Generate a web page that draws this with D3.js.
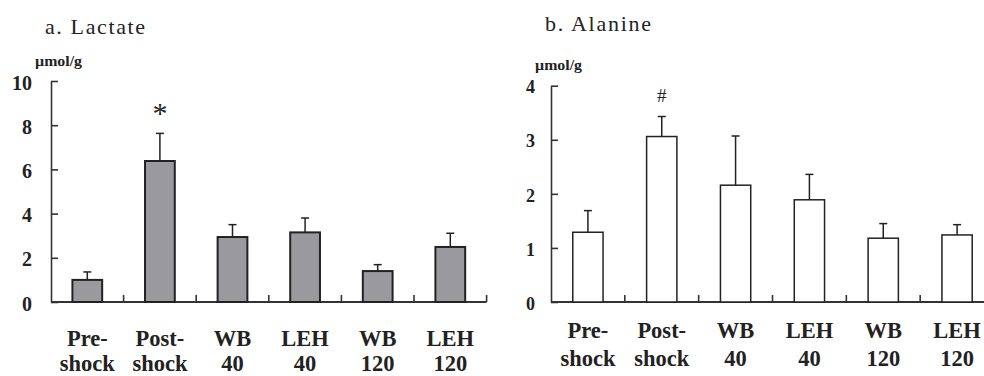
<!DOCTYPE html>
<html>
<head>
<meta charset="utf-8">
<script src="https://cdn.jsdelivr.net/npm/d3@7"></script>
<style>
  body { margin: 0; background: #fff; }
  svg { display: block; }
  text { font-family: "Liberation Serif", "Times New Roman", "DejaVu Serif", serif; }
</style>
</head>
<body>
<svg id="chart" width="984" height="376"></svg>
<script>
const groups = [['Pre-', 'shock'], ['Post-', 'shock'], ['WB', '40'], ['LEH', '40'], ['WB', '120'], ['LEH', '120']];

const lactateMean = [1.0, 6.38, 2.94, 3.15, 1.40, 2.49];
const lactateErr  = [0.36, 1.25, 0.56, 0.65, 0.29, 0.62];
const lactateTicks = [0, 2, 4, 6, 8, 10];

const alanineMean = [1.29, 3.06, 2.16, 1.89, 1.18, 1.24];
const alanineErr  = [0.40, 0.37, 0.91, 0.47, 0.27, 0.19];
const alanineTicks = [0, 1, 2, 3, 4];

const svg = d3.select('#chart');
const serif = '"Liberation Serif", "Times New Roman", "DejaVu Serif", serif';

function panel(opt) {
  const g = svg.append('g').attr('font-family', serif);

  const x = d3.scaleBand()
    .domain(d3.range(groups.length))
    .range([opt.x0, opt.x1])
    .padding(0);

  const y = d3.scaleLinear()
    .domain([0, opt.max])
    .range([302, opt.yTop]);

  // title + unit
  g.append('text')
    .attr('x', opt.titleX).attr('y', opt.titleY)
    .attr('font-size', 22).attr('fill', '#222')
    .attr('textLength', opt.titleW).attr('lengthAdjust', 'spacing')
    .text(opt.title);

  g.append('text')
    .attr('x', opt.unitX).attr('y', opt.unitY)
    .attr('font-size', 15).attr('font-weight', 'bold').attr('fill', '#222')
    .attr('textLength', 47).attr('lengthAdjust', 'spacingAndGlyphs')
    .text('µmol/g');

  // y axis, ticks pointing inward
  const yAxis = g.append('g')
    .attr('transform', `translate(${opt.x0},0)`)
    .call(d3.axisLeft(y).tickValues(opt.ticks).tickFormat(d3.format('d'))
      .tickSize(-7).tickSizeOuter(0).tickPadding(opt.tickPad));
  yAxis.attr('font-family', serif);
  yAxis.select('.domain').attr('stroke', '#333').attr('stroke-width', 1.6);
  yAxis.selectAll('.tick line').attr('stroke', '#333').attr('stroke-width', 1.6);
  yAxis.selectAll('.tick text')
    .attr('font-size', opt.yFont).attr('font-weight', 'bold')
    .attr('fill', '#222').attr('dy', '0.4em');

  // x axis line + category separators
  g.append('line')
    .attr('x1', opt.x0).attr('x2', Math.min(opt.x1, 984))
    .attr('y1', y(0)).attr('y2', y(0))
    .attr('stroke', '#333').attr('stroke-width', 1.8);

  g.selectAll('.sep')
    .data(d3.range(1, groups.length + 1))
    .join('line')
    .attr('x1', d => opt.x0 + d * x.step()).attr('x2', d => opt.x0 + d * x.step())
    .attr('y1', y(0)).attr('y2', y(0) - 7)
    .attr('stroke', '#333').attr('stroke-width', 1.6);

  const bw = x.bandwidth() * 0.41;
  const cx = i => x(i) + x.bandwidth() / 2;

  // error bars (upper only)
  const eb = g.append('g').attr('stroke', '#222').attr('stroke-width', 1.5);
  eb.selectAll('.v')
    .data(opt.mean)
    .join('line')
    .attr('x1', (d, i) => cx(i)).attr('x2', (d, i) => cx(i))
    .attr('y1', d => y(d)).attr('y2', (d, i) => y(d + opt.err[i]));
  eb.selectAll('.c')
    .data(opt.mean)
    .join('line')
    .attr('x1', (d, i) => cx(i) - 4).attr('x2', (d, i) => cx(i) + 4)
    .attr('y1', (d, i) => y(d + opt.err[i])).attr('y2', (d, i) => y(d + opt.err[i]));

  // bars
  g.selectAll('.bar')
    .data(opt.mean)
    .join('rect')
    .attr('x', (d, i) => cx(i) - bw / 2)
    .attr('width', bw)
    .attr('y', d => y(d))
    .attr('height', d => y(0) - y(d))
    .attr('fill', opt.fill)
    .attr('stroke', '#222')
    .attr('stroke-width', opt.barStroke);

  // significance mark
  g.append('text')
    .attr('x', cx(1)).attr('y', opt.markY)
    .attr('text-anchor', 'middle')
    .attr('font-size', opt.markSize).attr('fill', '#222')
    .text(opt.mark);

  // category labels
  const lab = g.selectAll('.lab')
    .data(groups)
    .join('text')
    .attr('text-anchor', 'middle')
    .attr('font-size', 22.5).attr('font-weight', 'bold').attr('fill', '#222');
  lab.append('tspan')
    .attr('x', (d, i) => cx(i)).attr('y', opt.labY1)
    .text(d => d[0]);
  lab.append('tspan')
    .attr('x', (d, i) => cx(i)).attr('y', opt.labY2)
    .text(d => d[1]);
}

panel({
  title: 'a. Lactate', titleX: 45, titleY: 33.5, titleW: 100,
  unitX: 35, unitY: 66,
  x0: 51, x1: 486.6, yTop: 81, max: 10, ticks: lactateTicks,
  tickPad: 19, yFont: 20,
  mean: lactateMean, err: lactateErr,
  fill: '#9a9a9e', barStroke: 2,
  mark: '*', markSize: 30, markY: 123,
  labY1: 345.5, labY2: 370.5
});

panel({
  title: 'b. Alanine', titleX: 545, titleY: 30.5, titleW: 106,
  unitX: 535, unitY: 70,
  x0: 551, x1: 994, yTop: 85.7, max: 4, ticks: alanineTicks,
  tickPad: 16, yFont: 18,
  mean: alanineMean, err: alanineErr,
  fill: '#fff', barStroke: 1.5,
  mark: '#', markSize: 19, markY: 102,
  labY1: 338, labY2: 366
});
</script>
</body>
</html>
